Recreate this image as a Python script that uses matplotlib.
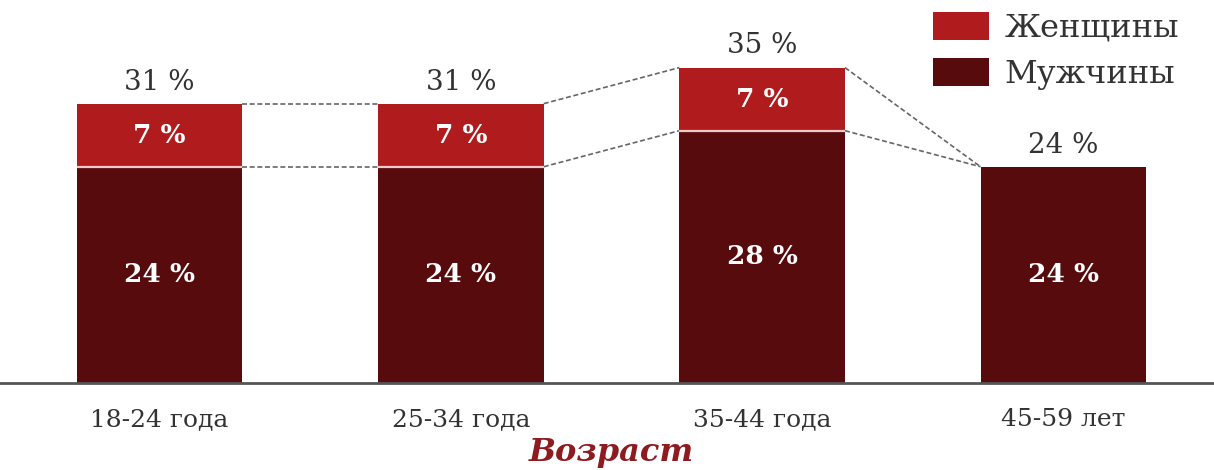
import matplotlib
matplotlib.use("Agg")
import matplotlib.pyplot as plt
from matplotlib.patches import Patch

categories = ["18-24 года", "25-34 года", "35-44 года", "45-59 лет"]
men = [24, 24, 28, 24]
women = [7, 7, 7, 0]
totals = [31, 31, 35, 24]

series_names = ["Женщины", "Мужчины"]
axis_title = "Возраст"

c_women = "#b01c1e"
c_men = "#580b0d"
c_text = "#333333"

plt.rcParams["font.family"] = ["DejaVu Serif"]

fig = plt.figure(figsize=(12.14, 4.70), dpi=100)
ax = fig.add_axes([0.0, 0.185, 1.0, 0.815])

x = list(range(len(categories)))
width = 0.55

ax.bar(x, men, width=width, color=c_men, edgecolor="none", zorder=2)
ax.bar(x, women, width=width, bottom=men, color=c_women, edgecolor="none", zorder=2)
# thin light seam between the two segments
for xi, m, w in zip(x, men, women):
    if w > 0:
        ax.plot([xi - width / 2, xi + width / 2], [m, m], color="#f3c9c9",
                lw=1.6, zorder=3, solid_capstyle="butt")

# dashed connectors between neighbouring bars
for i in range(len(x) - 1):
    for level_a, level_b in ((totals[i], totals[i + 1]), (men[i], men[i + 1])):
        ax.plot([x[i] + width / 2, x[i + 1] - width / 2], [level_a, level_b],
                color="#666666", lw=1.2, ls=(0, (3, 1.6)), zorder=1)

for xi, m, w, t in zip(x, men, women, totals):
    ax.text(xi, t + 0.9, f"{t} %", ha="center", va="bottom",
            fontsize=20, color=c_text)
    ax.text(xi, m / 2, f"{m} %", ha="center", va="center",
            fontsize=19, color="white", fontweight="bold")
    if w > 0:
        ax.text(xi, m + w / 2, f"{w} %", ha="center", va="center",
                fontsize=19, color="white", fontweight="bold")

ax.set_xlim(-0.53, 3.50)
ax.set_ylim(0, 42.5)
for side in ("top", "right", "left"):
    ax.spines[side].set_visible(False)
ax.spines["bottom"].set_color("#555555")
ax.spines["bottom"].set_linewidth(2)
ax.set_yticks([])
ax.set_xticks(x)
ax.set_xticklabels(categories, fontsize=18, color=c_text)
ax.tick_params(axis="x", length=0, pad=18)

fig.text(0.504, 0.004, axis_title, ha="center", va="bottom", fontsize=23,
         fontweight="bold", fontstyle="italic", color="#8e1b1f")

handles = [Patch(facecolor=c_women), Patch(facecolor=c_men)]
leg = fig.legend(handles, series_names, loc="upper left",
                 bbox_to_anchor=(933 / 1214, 1 - 12 / 470), frameon=False,
                 fontsize=23, handlelength=1.75, handleheight=0.95,
                 labelspacing=0.45, handletextpad=0.5, borderpad=0.0,
                 borderaxespad=0.0)
for t in leg.get_texts():
    t.set_color(c_text)

fig.savefig("out.png", dpi=100, facecolor="white")
